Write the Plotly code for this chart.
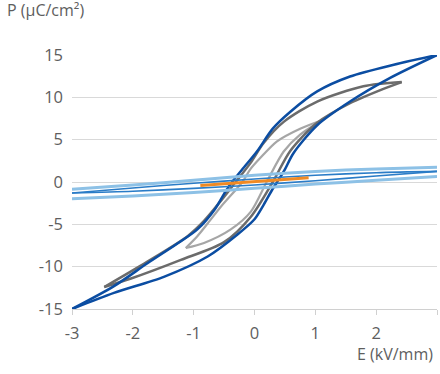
import plotly.graph_objects as go

# ---- data (E in kV/mm, P in uC/cm2) ----
# dark blue major loop
blue_up_x = [-3, -2.31, -1.49, -0.77, -0.28, 0, 0.15, 0.3, 0.4, 0.5, 0.64, 1.03, 1.57, 2.23, 3]
blue_up_y = [-15, -13.1, -11.2, -8.8, -6.2, -4.4, -2.7, -0.8, 0.3, 1.5, 3.4, 6.7, 9.5, 12.3, 15]
blue_dn_x = [3, 2.29, 1.57, 1.03, 0.59, 0.3, 0.04, -0.2, -0.4, -0.5, -0.66, -0.94, -1.21, -1.76, -2.31, -3]
blue_dn_y = [15, 13.85, 12.46, 10.7, 8.3, 6.3, 3.6, 1.5, -0.3, -1.4, -3.3, -5.6, -7.0, -9.6, -12.3, -15]

# dark gray loop
gray_up_x = [-2.47, -2.03, -1.21, -0.5, -0.06, 0.3, 0.59, 1.03, 1.57, 2.12, 2.42]
gray_up_y = [-12.4, -11.4, -9.2, -7.1, -4.1, 0.0, 3.7, 7.0, 9.3, 11.0, 11.8]
gray_dn_x = [2.42, 1.79, 1.03, 0.48, 0.15, -0.07, -0.32, -0.55, -0.83, -1.1, -1.76, -2.47]
gray_dn_y = [11.8, 11.3, 9.5, 7.1, 4.6, 2.2, -0.1, -2.2, -4.6, -6.4, -9.4, -12.4]

# light gray loop
lgray_up_x = [-1.13, -0.83, -0.39, -0.06, 0.2, 0.48, 0.75, 1.11]
lgray_up_y = [-7.8, -7.2, -5.6, -3.5, 0, 3.6, 5.6, 7.3]
lgray_dn_x = [1.11, 0.75, 0.37, 0.09, -0.07, -0.2, -0.55, -0.77, -0.94, -1.13]
lgray_dn_y = [7.3, 6.3, 4.8, 2.8, 1.5, 0, -2.9, -4.9, -6.4, -7.8]

# light blue narrow loop
lblue_dn_x = [3, 2, 1, 0, -1, -2, -3]
lblue_dn_y = [1.75, 1.55, 1.25, 0.8, 0.2, -0.35, -0.87]
lblue_up_x = [-3, -2, -1, 0, 1, 2, 3]
lblue_up_y = [-1.98, -1.65, -1.25, -0.75, -0.25, 0.2, 0.66]

# medium blue thin loop
mblue_dn_x = [3, 2, 1, 0, -1, -2, -3]
mblue_dn_y = [1.25, 1.1, 0.8, 0.35, -0.15, -0.7, -1.3]
mblue_up_x = [-3, -2, -1, 0, 1, 2, 3]
mblue_up_y = [-1.3, -1.1, -0.75, -0.35, 0.15, 0.7, 1.25]

# orange
orange_x = [-0.89, 0.89]
orange_y = [-0.4, 0.51]

x_ticks = [-3, -2, -1, 0, 1, 2, 3]
x_ticktext = ["-3", "-2", "-1", "0", "1", "2", "3"]
y_ticks = [-15, -10, -5, 0, 5, 10, 15]
y_ticktext = ["-15", "-10", "-5", "0", "5", "10", "15"]

FONT = "Open Sans"
TXT = "#5E5E5E"

fig = go.Figure()

def add(x, y, color, width, shape="spline"):
    fig.add_trace(go.Scatter(x=x, y=y, mode="lines", showlegend=False, hoverinfo="skip",
                             line=dict(color=color, width=width, shape=shape, smoothing=0.8)))

add(lgray_up_x, lgray_up_y, "#A6A6A6", 2.2)
add(lgray_dn_x, lgray_dn_y, "#A6A6A6", 2.2)
add(gray_up_x, gray_up_y, "#6B6B6B", 2.5)
add(gray_dn_x, gray_dn_y, "#6B6B6B", 2.5)
add(blue_up_x, blue_up_y, "#0B4DA2", 2.5)
add(blue_dn_x, blue_dn_y, "#0B4DA2", 2.5)
add(lblue_dn_x, lblue_dn_y, "#8DC1E6", 3)
add(lblue_up_x, lblue_up_y, "#8DC1E6", 3)
add(mblue_dn_x, mblue_dn_y, "#2A7CC7", 1.6)
add(mblue_up_x, mblue_up_y, "#2A7CC7", 1.6)
add(orange_x, orange_y, "#F08A24", 3, shape="linear")

fig.update_layout(
    width=440, height=374,
    margin=dict(l=72, r=3, t=55, b=65, autoexpand=False),
    paper_bgcolor="white", plot_bgcolor="white",
    font=dict(family=FONT, size=16, color=TXT),
    xaxis=dict(range=[-3, 3], tickvals=x_ticks, ticktext=x_ticktext,
               showgrid=False, zeroline=False, showline=True, linecolor="#D0D0D0", linewidth=1,
               ticks="outside", ticklen=5, tickcolor="#D0D0D0", tickwidth=1,
               ticklabelstandoff=4, tickfont=dict(size=16.5, color=TXT)),
    yaxis=dict(range=[-15, 15], tickvals=y_ticks, ticktext=y_ticktext,
               showgrid=True, gridcolor="#D9D9D9", gridwidth=1, zeroline=False,
               showline=False, ticks="", ticklabelstandoff=8, tickfont=dict(size=16.5, color=TXT)),
    annotations=[
        dict(text="P (μC/cm²)", xref="paper", yref="paper", x=(5 - 72) / 365, y=(319 - 20) / 254,
             xanchor="left", yanchor="middle", showarrow=False, font=dict(size=16, color=TXT)),
        dict(text="E (kV/mm)", xref="paper", yref="paper", x=(435 - 72) / 365, y=(319 - 364) / 254,
             xanchor="right", yanchor="middle", showarrow=False, font=dict(size=16, color=TXT)),
    ],
)

fig.write_html("out.html", config={"displayModeBar": False},
               post_script="document.body.style.margin='0';document.body.style.padding='0';")
